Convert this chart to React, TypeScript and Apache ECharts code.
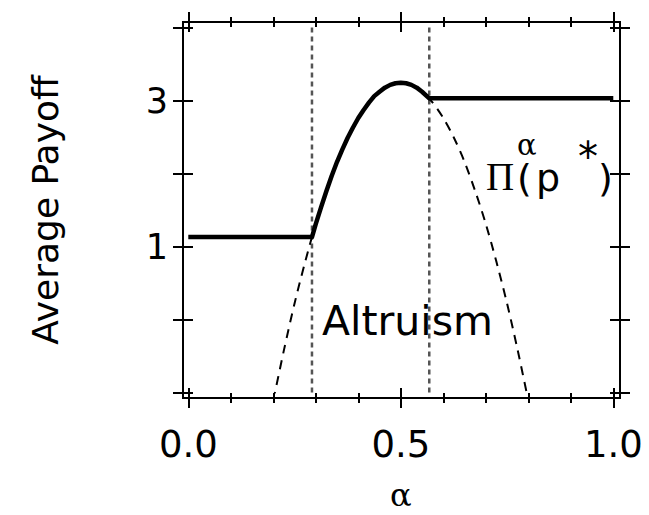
import React, { useEffect, useRef } from "react";
import * as echarts from "echarts";

// Solid curve: average payoff Π^α(p*)
const payoffAlpha = [0, 0.291, 0.3, 0.3125, 0.325, 0.3375, 0.35, 0.3625, 0.375, 0.3875, 0.4, 0.4125, 0.425, 0.4375, 0.45, 0.4625, 0.475, 0.4875, 0.5, 0.5125, 0.525, 0.5375, 0.55, 0.567, 1.0];
const payoffValue = [1.13, 1.13, 1.31, 1.54, 1.76, 1.97, 2.16, 2.33, 2.49, 2.63, 2.76, 2.87, 2.97, 3.06, 3.12, 3.176, 3.214, 3.236, 3.244, 3.236, 3.214, 3.176, 3.12, 3.03, 3.03];

// Dashed curve
const dashAlpha = [0.2, 0.225, 0.25, 0.275, 0.3, 0.325, 0.35, 0.375, 0.4, 0.425, 0.45, 0.475, 0.5, 0.525, 0.55, 0.575, 0.6, 0.625, 0.65, 0.675, 0.7, 0.725, 0.75, 0.775, 0.8];
const dashValue = [-1.11, -0.42, 0.22, 0.79, 1.31, 1.76, 2.16, 2.49, 2.76, 2.97, 3.12, 3.21, 3.244, 3.21, 3.12, 2.97, 2.76, 2.49, 2.16, 1.76, 1.31, 0.79, 0.22, -0.42, -1.11];

// Vertical dotted boundaries
const boundaries = [0.291, 0.567];

// Axis ranges / labelled ticks
const xRange = [0, 1];
const yRange = [-1, 4];
const yLabelled = [1, 3];

const SANS = '"DejaVu Sans", sans-serif';
const SERIF = '"DejaVu Serif", "Liberation Serif", serif';
const TIMES = '"Liberation Serif", "DejaVu Serif", serif';

export default function App() {
  const ref = useRef<HTMLDivElement>(null);
  useEffect(() => {
    if (!ref.current) return;
    const chart = echarts.init(ref.current, undefined, { renderer: "svg" });

    const tickStyle = { color: "#000", width: 2 };
    const mkX = (position: string, inside: boolean, withLabel: boolean) => ({
      type: "value",
      gridIndex: 0,
      position,
      offset: 5.5,
      min: xRange[0],
      max: xRange[1],
      interval: 0.5,
      axisLine: { show: false, onZero: false },
      splitLine: { show: false },
      axisTick: { show: true, inside, length: 10, lineStyle: tickStyle },
      minorTick: { show: true, splitNumber: 5, length: 5, lineStyle: tickStyle },
      minorSplitLine: { show: false },
      axisLabel: withLabel
        ? {
            show: true,
            margin: 28,
            color: "#000",
            fontSize: 37,
            fontFamily: SANS,
            formatter: (v: number) => v.toFixed(1),
          }
        : { show: false },
      ...(withLabel
        ? {
            name: "α",
            nameLocation: "middle",
            nameGap: 85,
            nameTextStyle: { fontFamily: SERIF, fontSize: 32, lineHeight: 24, color: "#000" },
          }
        : {}),
    });
    const mkY = (position: string, offset: number, inside: boolean, withLabel: boolean) => ({
      type: "value",
      gridIndex: 0,
      position,
      offset,
      min: yRange[0],
      max: yRange[1],
      interval: 1,
      axisLine: { show: false, onZero: false },
      splitLine: { show: false },
      axisTick: { show: true, inside, length: 10, lineStyle: tickStyle },
      axisLabel: withLabel
        ? {
            show: true,
            margin: 15,
            color: "#000",
            fontSize: 35,
            fontFamily: SANS,
            formatter: (v: number) => (yLabelled.indexOf(v) >= 0 ? String(v) : ""),
          }
        : { show: false },
      ...(withLabel
        ? {
            name: "Average Payoff",
            nameLocation: "middle",
            nameGap: 120,
            nameTextStyle: { fontFamily: SANS, fontSize: 36, color: "#000" },
          }
        : {}),
    });

    const txt = (text: string, x: number, y: number, font: string, lineHeight: number) => ({
      type: "text",
      x,
      y,
      style: { text, font, lineHeight, fill: "#000", align: "left", verticalAlign: "middle" },
    });

    chart.setOption({
      animation: false,
      backgroundColor: "#fff",
      grid: {
        left: 188.3,
        right: 35.7,
        top: 27.5,
        bottom: 122.5,
        containLabel: false,
        outerBoundsMode: "none",
      },
      xAxis: [
        mkX("bottom", false, true),
        mkX("bottom", true, false),
        mkX("top", false, false),
        mkX("top", true, false),
      ],
      yAxis: [
        mkY("left", 5.3, false, true),
        mkY("left", 5.3, true, false),
        mkY("right", 6.7, false, false),
        mkY("right", 6.7, true, false),
      ],
      series: [
        ...boundaries.map((b) => ({
          type: "line",
          xAxisIndex: 0,
          yAxisIndex: 0,
          data: [
            [b, yRange[0]],
            [b, yRange[1]],
          ],
          symbol: "none",
          silent: true,
          lineStyle: { color: "#555", width: 2.5, type: [5, 4] },
        })),
        {
          type: "line",
          xAxisIndex: 0,
          yAxisIndex: 0,
          data: dashAlpha.map((a, i) => [a, dashValue[i]]),
          symbol: "none",
          smooth: 0.3,
          lineStyle: { color: "#000", width: 2, type: [9, 7] },
        },
        {
          type: "line",
          xAxisIndex: 0,
          yAxisIndex: 0,
          data: payoffAlpha.map((a, i) => [a, payoffValue[i]]),
          symbol: "none",
          lineStyle: { color: "#000", width: 4.5, join: "round", cap: "butt" },
        },
      ],
      graphic: [
        {
          type: "rect",
          shape: { x: 183, y: 22, width: 437, height: 376 },
          style: { fill: "none", stroke: "#000", lineWidth: 2 },
          silent: true,
          z: 10,
        },
        txt("Altruism", 322, 321, `41px ${SANS}`, 41),
        txt("Π", 486, 176, `39px ${TIMES}`, 30),
        txt("α", 517, 145, `29px ${SERIF}`, 16),
        txt("(", 517, 178, `38px ${SANS}`, 28),
        txt("p", 536, 178, `38px ${SANS}`, 28),
        txt("*", 578, 157, `40px ${SANS}`, 10),
        txt(")", 598, 178, `38px ${SANS}`, 28),
      ],
    });
    return () => chart.dispose();
  }, []);
  return (
    <div
      ref={ref}
      style={{ position: "fixed", left: 0, top: 0, width: 649, height: 515, background: "#fff" }}
    />
  );
}
